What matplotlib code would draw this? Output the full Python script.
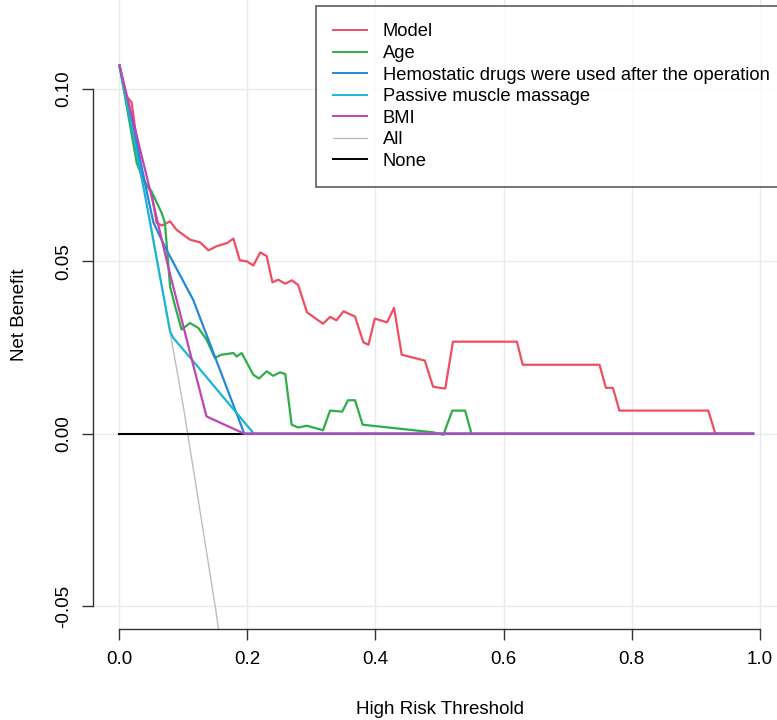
import numpy as np
import matplotlib
matplotlib.use("Agg")
from matplotlib import pyplot as plt

plt.rcParams['font.family'] = ['Liberation Sans', 'DejaVu Sans']

# decision curve values
model_t = [0.0, 0.011, 0.019, 0.024, 0.035, 0.040, 0.050, 0.058, 0.066, 0.079,
           0.089, 0.110, 0.126, 0.139, 0.152, 0.168, 0.178, 0.188, 0.199, 0.209,
           0.220, 0.230, 0.239, 0.248, 0.259, 0.269, 0.279, 0.293, 0.318, 0.329,
           0.339, 0.350, 0.368, 0.381, 0.389, 0.399, 0.418, 0.429, 0.441, 0.477,
           0.490, 0.509, 0.521, 0.621, 0.630, 0.750, 0.760, 0.771, 0.781, 0.920,
           0.931, 0.99]
model_nb = [0.1068, 0.0979, 0.0961, 0.0891, 0.0766, 0.0728, 0.0699, 0.0612, 0.0604, 0.0616,
            0.0592, 0.0563, 0.0555, 0.0532, 0.0544, 0.0553, 0.0566, 0.0503, 0.0500, 0.0488,
            0.0526, 0.0515, 0.0439, 0.0447, 0.0435, 0.0445, 0.0432, 0.0352, 0.0319, 0.0339,
            0.0329, 0.0355, 0.0340, 0.0265, 0.0258, 0.0334, 0.0323, 0.0365, 0.0229, 0.0212,
            0.0136, 0.0131, 0.0267, 0.0267, 0.0200, 0.0200, 0.0133, 0.0133, 0.0067, 0.0067,
            0.0, 0.0]

age_t = [0.0, 0.027, 0.037, 0.050, 0.066, 0.071, 0.074, 0.079, 0.087, 0.097,
         0.110, 0.123, 0.136, 0.149, 0.159, 0.178, 0.183, 0.191, 0.209, 0.218,
         0.230, 0.240, 0.251, 0.259, 0.269, 0.279, 0.293, 0.318, 0.329, 0.348,
         0.357, 0.368, 0.380, 0.490, 0.506, 0.520, 0.540, 0.550]
age_nb = [0.1068, 0.0785, 0.0737, 0.0703, 0.0640, 0.0611, 0.0543, 0.0427, 0.0369, 0.0302,
          0.0321, 0.0307, 0.0273, 0.0220, 0.0229, 0.0234, 0.0224, 0.0234, 0.0171, 0.0160,
          0.0181, 0.0168, 0.0178, 0.0173, 0.0026, 0.0018, 0.0023, 0.0010, 0.0067, 0.0064,
          0.0097, 0.0097, 0.0026, 0.0004, -0.0003, 0.0067, 0.0067, 0.0]

hemo_t = [0.0, 0.053, 0.071, 0.115, 0.195, 0.99]
hemo_nb = [0.1068, 0.0613, 0.0542, 0.0389, 0.0, 0.0]

massage_t = [0.0, 0.040, 0.079, 0.084, 0.113, 0.210, 0.99]
massage_nb = [0.1068, 0.0690, 0.0297, 0.0278, 0.0215, 0.0, 0.0]

bmi_t = [0.0, 0.048, 0.076, 0.113, 0.136, 0.195, 0.99]
bmi_nb = [0.1068, 0.0705, 0.0485, 0.0215, 0.0050, 0.0, 0.0]

all_t = [0.0, 0.05, 0.10, 0.15, 0.20]
all_nb = [0.1068, 0.0598, 0.0076, -0.0506, -0.116]

none_t = [0.0, 0.99]
none_nb = [0.0, 0.0]

labels = ["Model", "Age", "Hemostatic drugs were used after the operation",
          "Passive muscle massage", "BMI", "All", "None"]
colors = ["#F14D62", "#2DAE4A", "#2388D8", "#1BB5D4", "#BE45B2", "#BDBDBD", "black"]

xticks = [0.0, 0.2, 0.4, 0.6, 0.8, 1.0]
yticks = [-0.05, 0.0, 0.05, 0.10]

W, H = 777, 720
fs = 13.5
fig = plt.figure(figsize=(W/100, H/100), dpi=100)
ax = fig.add_axes([93/W, (H-629)/H, 693/W, 629/H])
ax.set_xlim(-0.0414, 1.0414)
ax.set_ylim(-0.05667, 0.12583)

for v in xticks:
    ax.axvline(v, color="#E8EBEC", lw=1, zorder=0)
for v in yticks:
    ax.axhline(v, color="#E8EBEC", lw=1, zorder=0)

ax.plot(all_t, all_nb, color=colors[5], lw=1.0)
ax.plot(none_t, none_nb, color=colors[6], lw=1.5)
ax.plot(model_t, model_nb, color=colors[0], lw=1.6)
ax.plot(age_t, age_nb, color=colors[1], lw=1.6)
ax.plot(hemo_t, hemo_nb, color=colors[2], lw=1.6)
ax.plot(massage_t, massage_nb, color=colors[3], lw=1.6)
ax.plot(bmi_t, bmi_nb, color=colors[4], lw=1.6)

for s in ["top", "right"]:
    ax.spines[s].set_visible(False)
ax.spines["left"].set_bounds(-0.05, 0.10)
ax.spines["bottom"].set_bounds(0.0, 1.0)
for s in ["left", "bottom"]:
    ax.spines[s].set_color("#333333")
    ax.spines[s].set_linewidth(1.0)

ax.set_xticks(xticks)
ax.set_xticklabels(["0.0", "0.2", "0.4", "0.6", "0.8", "1.0"], fontsize=fs)
ax.set_yticks(yticks)
ax.set_yticklabels(["-0.05", "0.00", "0.05", "0.10"], fontsize=fs, rotation=90, va="center")
ax.tick_params(axis="both", direction="out", length=8, width=1.0, color="#333333")
ax.tick_params(axis="x", pad=8)
ax.tick_params(axis="y", pad=7)

ax.set_xlabel("High Risk Threshold", fontsize=fs)
ax.xaxis.set_label_coords(0.5, (629-709)/629)
ax.xaxis.label.set_va("center")
ax.set_ylabel("Net Benefit", fontsize=fs)
ax.yaxis.set_label_coords((20-93)/693, 0.5)
ax.yaxis.label.set_va("center")

handles = [plt.Line2D([], [], color=c, lw=1.4 if c != colors[5] else 1.0) for c in colors]
leg = fig.legend(handles, labels, loc="upper left", bbox_to_anchor=(316/W, 1-6/H),
                 fontsize=13.2, frameon=True, fancybox=False, edgecolor="#333333",
                 borderpad=0.95, labelspacing=0.25, handlelength=1.85, handletextpad=0.85,
                 borderaxespad=0)
leg.get_frame().set_linewidth(1.2)

fig.savefig("out.png", dpi=100)
